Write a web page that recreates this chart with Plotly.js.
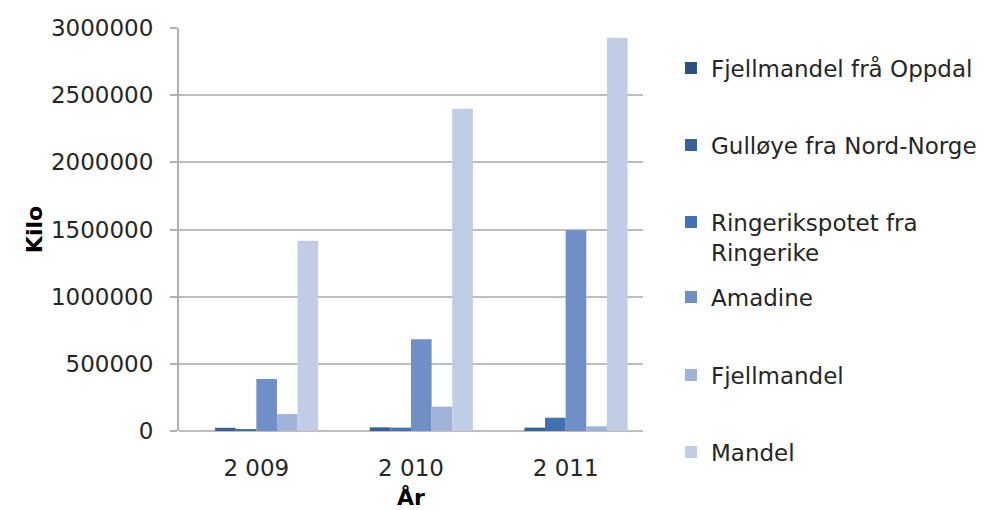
<!DOCTYPE html>
<html>
<head>
<meta charset="utf-8">
<script src="https://cdn.plot.ly/plotly-3.0.1.min.js"></script>
<style>
  html, body { margin: 0; padding: 0; background: #ffffff; }
  #chart { width: 992px; height: 510px; }
</style>
</head>
<body>
<div id="chart"></div>
<script>
// Potatoes sold per variety, in kilo, by year
const years = ['2 009', '2 010', '2 011'];

const seriesNames = [
  'Fjellmandel frå Oppdal',
  'Gulløye fra Nord-Norge',
  'Ringerikspotet fra<br>Ringerike',
  'Amadine',
  'Fjellmandel',
  'Mandel'
];

const fjellmandelOppdal = [0, 0, 0];
const gulloye = [24000, 27000, 25000];
const ringerikspotet = [15000, 25000, 99000];
const amadine = [387000, 683000, 1495000];
const fjellmandel = [126000, 181000, 35000];
const mandel = [1417000, 2398000, 2927000];

const seriesValues = [fjellmandelOppdal, gulloye, ringerikspotet, amadine, fjellmandel, mandel];
const seriesColors = ['#2e4f80', '#3a609a', '#4272b2', '#6f8fc6', '#9fb2d7', '#c1cde4'];

// one legend box per series (container coordinates) so the entries sit on an even rhythm
const legendY = [0.8667, 0.7157, 0.5353, 0.4176, 0.2647, 0.1137];

const traces = seriesNames.map((name, i) => ({
  type: 'bar',
  name: name,
  x: years,
  y: seriesValues[i],
  marker: { color: seriesColors[i], line: { width: 0 } },
  legend: i === 0 ? 'legend' : 'legend' + (i + 1),
  hoverinfo: 'x+y+name'
}));

const fontFamily = '"DejaVu Sans", "Open Sans", sans-serif';

const layout = {
  width: 992,
  height: 510,
  margin: { l: 179, r: 349, t: 28, b: 79 },
  paper_bgcolor: '#ffffff',
  plot_bgcolor: '#ffffff',
  barmode: 'group',
  bargap: 0.2,
  bargroupgap: 0,
  font: { family: fontFamily, color: '#262626', size: 23 },
  xaxis: {
    type: 'category',
    showgrid: false,
    showline: false,
    ticks: '',
    ticklabelstandoff: 21,
    tickfont: { size: 23, color: '#262626' },
    title: { text: '<b>År</b>', font: { size: 22, color: '#000000' }, standoff: 10 }
  },
  yaxis: {
    range: [0, 3000000],
    dtick: 500000,
    tickformat: 'd',
    showgrid: true,
    gridcolor: '#bdbdbd',
    gridwidth: 2,
    zeroline: true,
    zerolinecolor: '#bdbdbd',
    zerolinewidth: 2,
    showline: true,
    linecolor: '#b0b0b0',
    linewidth: 2,
    ticks: 'outside',
    ticklen: 7,
    tickwidth: 2,
    tickcolor: '#b0b0b0',
    ticklabelstandoff: 12,
    tickfont: { size: 23, color: '#262626' },
    title: { text: '<b>Kilo</b>', font: { size: 22, color: '#000000' }, standoff: 2 }
  },
  showlegend: true
};

legendY.forEach((y, i) => {
  const key = i === 0 ? 'legend' : 'legend' + (i + 1);
  layout[key] = {
    xref: 'container',
    yref: 'container',
    x: 0.6764,
    xanchor: 'left',
    y: y,
    yanchor: 'middle',
    valign: 'top',
    bgcolor: 'rgba(0,0,0,0)',
    borderwidth: 0,
    font: { family: fontFamily, size: 23, color: '#262626' }
  };
});

Plotly.newPlot('chart', traces, layout, { displayModeBar: false, staticPlot: true });
</script>
</body>
</html>
